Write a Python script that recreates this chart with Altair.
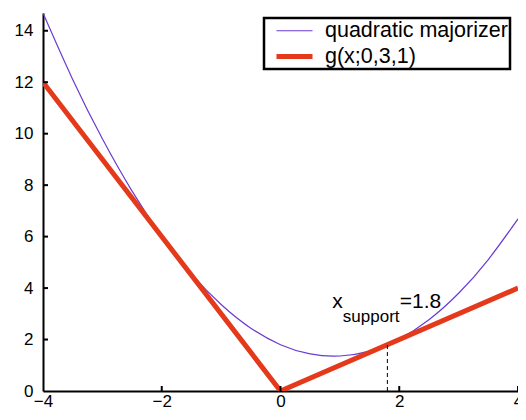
import altair as alt
import pandas as pd

# quadratic majorizer
q_x = [-4, -3.5, -3, -2.5, -2, -1.5, -1, -0.5, 0, 0.5, 1, 1.5, 2, 2.5, 3, 3.5, 4]
q_y = [14.69, 12.11, 9.80, 7.77, 6.02, 4.55, 3.36, 2.44, 1.80, 1.44, 1.36, 1.55, 2.02, 2.77, 3.80, 5.11, 6.69]
# g(x;0,3,1)
g_x = [-4, 0, 4]
g_y = [12, 0, 4]
series_names = ["quadratic majorizer", "g(x;0,3,1)"]
series_colors = ["#6a3bd2", "#e5391c"]
series_widths = [1.2, 5]

x_ticks = [-2, 0, 2, 4]
y_ticks = [2, 4, 6, 8, 10, 12, 14]
support_x = [1.8]
support_y = [1.8]

W, H = 475, 378
XDOM = [-4, 4]
YDOM = [0, 14.69]

quad = pd.DataFrame({"x": q_x, "y": q_y, "series": [series_names[0]] * len(q_x)})
gdf = pd.DataFrame({"x": g_x, "y": g_y, "series": [series_names[1]] * len(g_x)})

xs = alt.Scale(domain=XDOM, nice=False, zero=False)
ys = alt.Scale(domain=YDOM, nice=False, zero=False)

xaxis = alt.Axis(values=[-4, -2, 0, 2, 4], title=None, grid=False, ticks=False, format="d",
                 labelPadding=2, labelFlush=False, labelOverlap=False)
yaxis = alt.Axis(values=[0] + y_ticks, title=None, grid=False, ticks=False, format="d",
                 labelPadding=10, labelFlush=False, labelOverlap=False)

leg = alt.Legend(orient="none", legendX=221, legendY=5,
                 symbolType="M-2,0H2", symbolSize=324, symbolOffset=17,
                 labelFontSize=21.5, labelFont="Liberation Sans",
                 labelColor="black", labelOffset=19,
                 labelExpr="datum.label + ' '",
                 padding=2, rowPadding=3,
                 strokeColor="black", fillColor="white",
                 labelLimit=320)

color_enc = alt.Color("series:N",
                      scale=alt.Scale(domain=series_names, range=series_colors),
                      title=None, legend=leg)
width_enc = alt.StrokeWidth("series:N",
                            scale=alt.Scale(domain=series_names, range=series_widths),
                            title=None, legend=leg)

quad_layer = alt.Chart(quad).mark_line(interpolate="natural", clip=True).encode(
    x=alt.X("x:Q", scale=xs, axis=xaxis),
    y=alt.Y("y:Q", scale=ys, axis=yaxis),
    color=color_enc,
    strokeWidth=width_enc,
)
g_layer = alt.Chart(gdf).mark_line(clip=True).encode(
    x=alt.X("x:Q", scale=xs),
    y=alt.Y("y:Q", scale=ys),
    color=color_enc,
    strokeWidth=width_enc,
)

sup = pd.DataFrame({"x": support_x, "y": support_y, "y0": [0] * len(support_x)})
dash = alt.Chart(sup).mark_rule(color="black", strokeDash=[4, 3], strokeWidth=1).encode(
    x=alt.X("x:Q", scale=xs),
    y=alt.Y("y0:Q", scale=ys),
    y2=alt.Y2("y:Q"),
)

ann = pd.DataFrame({
    "x": [0.87, 1.05, 2.01],
    "y": [3.22, 2.70, 3.22],
    "t": ["x", "support", "=1.8"],
    "s": [21, 17, 21],
})
ann_layer = alt.Chart(ann).mark_text(align="left", baseline="alphabetic",
                                     font="Liberation Sans", color="black").encode(
    x=alt.X("x:Q", scale=xs),
    y=alt.Y("y:Q", scale=ys),
    text="t:N",
    size=alt.Size("s:Q", scale=None, legend=None),
)

xt = pd.DataFrame({"v": x_ticks})
xtick_layer = alt.Chart(xt).mark_rule(color="black", strokeWidth=2).encode(
    x=alt.X("v:Q", scale=xs),
    y=alt.value(H),
    y2=alt.value(H - 5),
)
yt = pd.DataFrame({"v": y_ticks})
ytick_layer = alt.Chart(yt).mark_rule(color="black", strokeWidth=2).encode(
    y=alt.Y("v:Q", scale=ys),
    x=alt.value(0),
    x2=alt.value(5),
)

chart = alt.layer(quad_layer, g_layer, dash, ann_layer, xtick_layer, ytick_layer).properties(
    width=W, height=H,
    padding={"left": 35, "top": 5, "right": 0, "bottom": 21},
    autosize=alt.AutoSizeParams(type="none"),
).configure_view(stroke=None).configure_axis(
    domainColor="black", domainWidth=2,
    labelFont="Liberation Sans", labelFontSize=17, labelColor="black",
).configure_legend(strokeWidth=2.5)

chart.save("out.html", embed_options={"renderer": "svg", "actions": False})
